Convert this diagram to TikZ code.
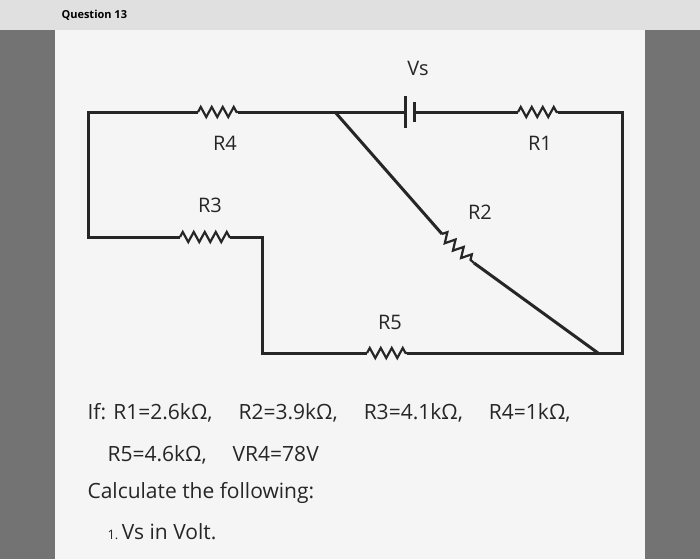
\documentclass[tikz,border=0pt]{standalone}
\usepackage{fontspec}
\setmainfont{Open Sans}
\usetikzlibrary{decorations.pathmorphing}
\begin{document}
\begin{tikzpicture}[
        x = 1pt, y = -1pt,
        wire/.style = {line width=3pt, black!85},
        res/.style = {wire, line width=2.2pt, decoration={zigzag, amplitude=5pt, segment length=11pt}, decorate},
        lbl/.style = {font=\fontsize{20}{24}\selectfont, black!85},
        txt/.style = {font=\fontsize{21}{25}\selectfont, black!85, anchor=west}
    ]
    % screen and background
    \useasboundingbox (0,0) rectangle (700,559);
    \fill[black!55] (0,0) rectangle (700,559);
    \fill[black!4] (55,30) rectangle (645,559);
    \fill[black!12] (0,0) rectangle (700,30);
    \node[anchor=west, font=\bfseries\fontsize{11}{13}\selectfont] (q) at (58,15) {Question 13};

    % corners of the circuit
    \coordinate (tl) at (88,112);
    \coordinate (tr) at (622,112);
    \coordinate (bl) at (88,237);
    \coordinate (m) at (262,237);
    \coordinate (j) at (335,112);
    \coordinate (bb) at (262,353);
    \coordinate (br) at (598,353);
    \coordinate (rr) at (622,353);

    % resistor end points
    \coordinate (r4a) at (198,112); \coordinate (r4b) at (238,112);
    \coordinate (r1a) at (518,112); \coordinate (r1b) at (558,112);
    \coordinate (r3a) at (180,237); \coordinate (r3b) at (230,237);
    \coordinate (r5a) at (367,353); \coordinate (r5b) at (407,353);
    \coordinate (r2a) at (442,234); \coordinate (r2b) at (474,263);
    \coordinate (ba) at (405,112); \coordinate (bt) at (414,112);

    % wires
    \draw[wire] (r4a) -- (tl) -- (bl) -- (r3a);
    \draw[wire] (r3b) -- (m) -- (bb) -- (r5a);
    \draw[wire] (r5b) -- (br) -- (rr) -- (tr) -- (r1b);
    \draw[wire] (r1a) -- (bt);
    \draw[wire] (ba) -- (j) -- (r4b);
    \draw[wire] (j) -- (r2a);
    \draw[wire] (r2b) -- (br);

    % resistors
    \draw[res] (r4a) -- (r4b);
    \draw[res] (r1a) -- (r1b);
    \draw[res] (r3a) -- (r3b);
    \draw[res] (r5a) -- (r5b);
    \draw[res] (r2a) -- (r2b);

    % source
    \draw[wire] (405,96) -- (405,128);
    \draw[wire] (414,102) -- (414,122);

    % labels
    \node[lbl] (lvs) at (418,68) {Vs};
    \node[lbl] (l4) at (225,143) {R4};
    \node[lbl] (l1) at (540,143) {R1};
    \node[lbl] (l3) at (210,205) {R3};
    \node[lbl] (l2) at (480,212) {R2};
    \node[lbl] (l5) at (390,322) {R5};

    % question text
    \node[txt] (t1) at (84,413) {If: R1=2.6kΩ,\hspace{26pt}R2=3.9kΩ,\hspace{26pt}R3=4.1kΩ,\hspace{26pt}R4=1kΩ,};
    \node[txt] (t2) at (104,455) {R5=4.6kΩ,\hspace{26pt}VR4=78V};
    \node[txt] (t3) at (84,493) {Calculate the following:};
    \node[txt] (t4) at (104,532) {{\fontsize{13}{15}\selectfont 1.}\,Vs in Volt.};
\end{tikzpicture}
\end{document}
